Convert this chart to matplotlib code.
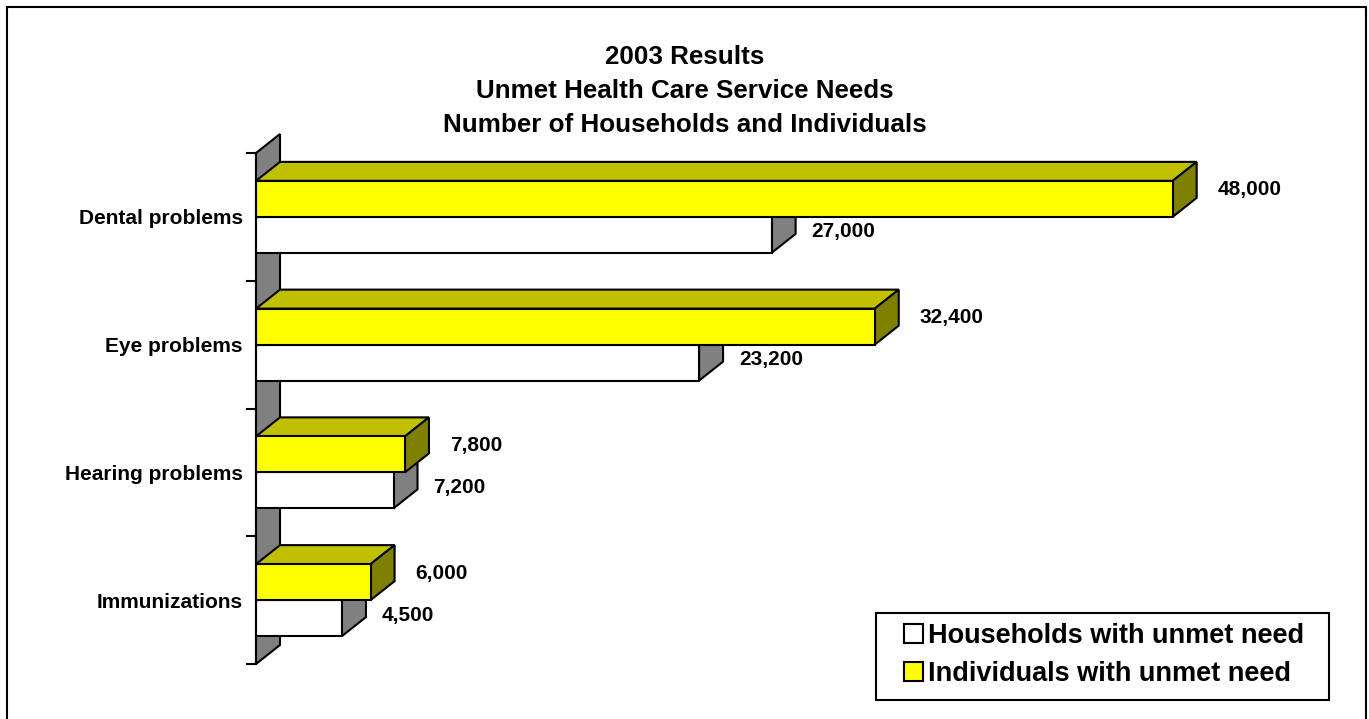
import numpy as np
import matplotlib.pyplot as plt
from matplotlib.patches import Polygon, Rectangle, Patch

plt.rcParams['font.family'] = ['Liberation Sans', 'DejaVu Sans']
plt.rcParams['font.weight'] = 'bold'

categories = ['Dental problems', 'Eye problems', 'Hearing problems', 'Immunizations']
households = [27000, 23200, 7200, 4500]
individuals = [48000, 32400, 7800, 6000]
series_names = ['Households with unmet need', 'Individuals with unmet need']
title_lines = ['2003 Results', 'Unmet Health Care Service Needs',
               'Number of Households and Individuals']

W, H = 1369, 719
fig = plt.figure(figsize=(W / 100, H / 100), dpi=100)

# front plane of the plot area, in pixels
left, right, top, bottom = 256, 1356, 153, 664
ax = fig.add_axes([left / W, 1 - bottom / H, (right - left) / W, (bottom - top) / H])
n = len(categories)
xmax = 57600
ax.set_xlim(0, xmax)
ax.set_ylim(n - 0.5, -0.5)

ux = xmax / (right - left)      # data units per pixel
uy = n / (bottom - top)
dx, dy = 24 * ux, 19 * uy       # depth offset of the 3d look
bar_h = 36 * uy
lw = 1.5
edge = dict(edgecolor='black', linewidth=lw, joinstyle='miter', clip_on=False)

# back wall
ax.add_patch(Polygon([(0, -0.5), (dx, -0.5 - dy), (dx, n - 0.5 - dy), (0, n - 0.5)],
                     facecolor='#808080', zorder=0.5, **edge))


def bar3d(y, x, h, front, top_c, side_c):
    y0, y1 = y - h / 2, y + h / 2
    ax.add_patch(Polygon([(0, y0), (dx, y0 - dy), (x + dx, y0 - dy), (x, y0)],
                         facecolor=top_c, zorder=1, **edge))
    ax.add_patch(Polygon([(x, y0), (x + dx, y0 - dy), (x + dx, y1 - dy), (x, y1)],
                         facecolor=side_c, zorder=1, **edge))
    ax.barh(y, x, height=h, color=front, edgecolor='black', linewidth=lw, zorder=1)


for i in range(n):
    bar3d(i + bar_h / 2, households[i], bar_h, 'white', '#c0c0c0', '#808080')
    bar3d(i - bar_h / 2, individuals[i], bar_h, '#ffff00', '#c0c000', '#808000')
    ax.text(individuals[i] + dx + 21 * ux, i - bar_h / 2 - 9 * uy, f'{individuals[i]:,}',
            ha='left', va='center', fontsize=15, fontweight='bold')
    ax.text(households[i] + 40 * ux, i + bar_h / 2 - 3 * uy, f'{households[i]:,}',
            ha='left', va='center', fontsize=15, fontweight='bold')

for s in ['top', 'right', 'bottom']:
    ax.spines[s].set_visible(False)
ax.spines['left'].set_linewidth(lw)
ax.spines['left'].set_zorder(3)
ax.set_xticks([])
ax.set_yticks(np.arange(-0.5, n, 1))
ax.set_yticklabels([])
ax.set_yticks(np.arange(n), minor=True)
ax.set_yticklabels(categories, minor=True)
ax.tick_params(axis='y', which='major', length=7.5, width=lw, direction='out')
ax.tick_params(axis='y', which='minor', length=0, pad=9.5, labelsize=15)
ax.patch.set_visible(False)

for txt, ypx in zip(title_lines, [57, 91, 125]):
    fig.text(685 / W, 1 - ypx / H, txt, ha='center', va='center',
             fontsize=18.7, fontweight='bold')

# legend box drawn separately so it can be wider than its entries
fig.add_artist(Rectangle((876 / W, 1 - 700 / H), (1329 - 876) / W, (700 - 613) / H,
                         transform=fig.transFigure, facecolor='white',
                         edgecolor='black', linewidth=lw, zorder=4))
handles = [Patch(facecolor='white', edgecolor='black', linewidth=lw),
           Patch(facecolor='#ffff00', edgecolor='black', linewidth=lw)]
leg = fig.legend(handles, series_names, loc='center',
                 bbox_to_anchor=(1104 / W, 1 - 655 / H), bbox_transform=fig.transFigure,
                 fontsize=19.5, frameon=False,
                 handlelength=0.7, handleheight=0.7, handletextpad=0.2,
                 borderpad=0, labelspacing=0.45, borderaxespad=0)
leg.set_zorder(5)

# outer frame, open at the bottom
fig.add_artist(Rectangle((7 / W, -0.1), (1366 - 7) / W, 1.1 - 7 / H,
                         transform=fig.transFigure, fill=False,
                         edgecolor='black', linewidth=lw))

fig.savefig('out.png', dpi=100)
